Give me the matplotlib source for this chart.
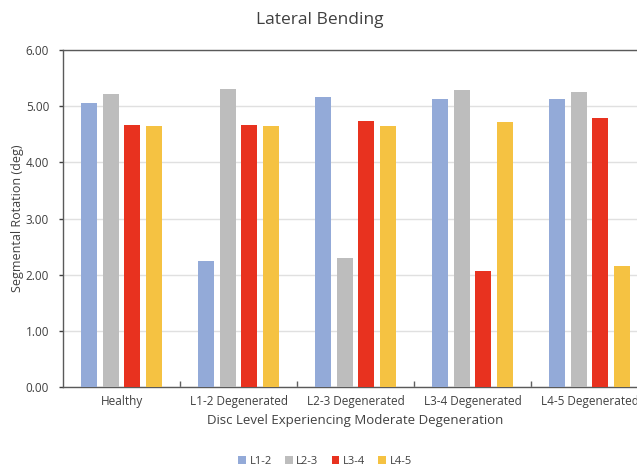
import matplotlib
matplotlib.use("Agg")
import matplotlib.pyplot as plt
import numpy as np

categories = ["Healthy", "L1-2 Degenerated", "L2-3 Degenerated", "L3-4 Degenerated", "L4-5 Degenerated"]
series_names = ["L1-2", "L2-3", "L3-4", "L4-5"]
l12 = [5.06, 2.24, 5.16, 5.12, 5.13]
l23 = [5.22, 5.30, 2.30, 5.28, 5.25]
l34 = [4.66, 4.66, 4.74, 2.06, 4.79]
l45 = [4.65, 4.65, 4.65, 4.72, 2.15]
yticks = [0, 1, 2, 3, 4, 5, 6]
colors = ["#93aad8", "#bdbdbd", "#e8321f", "#f5c242"]

plt.rcParams['font.family'] = ['Open Sans', 'DejaVu Sans']

W, H = 637, 466
fig = plt.figure(figsize=(W/100, H/100), dpi=100)
ax = fig.add_axes([63/W, 1-387/H, (648-63)/W, (387-50)/H])

x = np.arange(len(categories))
w = 0.137
pitch = 0.185
for i, (vals, c, n) in enumerate(zip([l12, l23, l34, l45], colors, series_names)):
    ax.bar(x + (i-1.5)*pitch, vals, w, color=c, label=n, zorder=3)

ax.set_xlim(-0.5, len(categories)-0.5)
ax.set_ylim(0, 6)
ax.set_yticks(yticks)
ax.set_yticklabels([f"{v:.2f}" for v in yticks], fontsize=8.5, color="#404040")
ax.yaxis.grid(True, color="#e0e0e0", linewidth=1, zorder=0)
ax.tick_params(axis='y', length=3, width=1, color="#404040", direction='out', pad=7)
ax.set_xticks(x)
ax.set_xticklabels(categories, fontsize=8.5, color="#404040")
ax.tick_params(axis='x', length=0, pad=6)
ax.set_xticks(np.arange(0.5, len(categories)-0.5, 1), minor=True)
ax.tick_params(axis='x', which='minor', length=4, width=1, color="#606060", direction='in')
for s in ["left", "top", "bottom"]:
    ax.spines[s].set_color("#5a5a5a")
    ax.spines[s].set_linewidth(1.0)
ax.spines["right"].set_visible(False)

ax.set_ylabel("Segmental Rotation (deg)", fontsize=9, color="#404040", labelpad=1)
ax.set_xlabel("Disc Level Experiencing Moderate Degeneration", fontsize=9.5, color="#404040", labelpad=4)
fig.text(320/W, 1-20/H, "Lateral Bending", ha="center", va="center", fontsize=12.5, color="#404040")

fig.legend(loc="center", bbox_to_anchor=(325/W, 1-461/H), ncol=4, frameon=False,
           fontsize=8, handlelength=0.7, handleheight=0.7, handletextpad=0.3, columnspacing=1.2,
           labelcolor="#404040")

fig.savefig("out.png", dpi=100, facecolor="white")
